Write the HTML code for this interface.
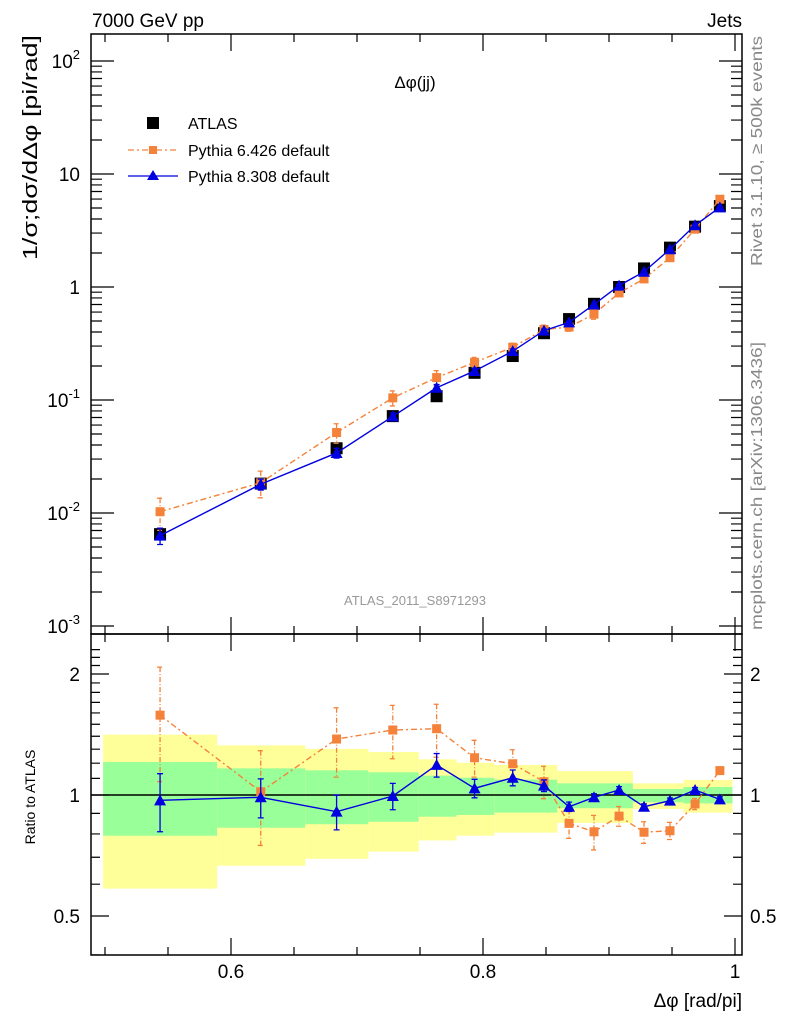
<!DOCTYPE html>
<html><head><meta charset="utf-8">
<style>
body{margin:0;background:#fff;}
svg{display:block;font-family:"Liberation Sans",sans-serif;}
</style></head>
<body>
<svg id="c" width="786" height="1024" viewBox="0 0 786 1024" xmlns="http://www.w3.org/2000/svg">
<g id="bands"></g>
<g id="grid"></g>
<g id="series"></g>
<text x="92" y="27" font-size="19">7000 GeV pp</text>
<text x="742" y="27" font-size="19" text-anchor="end">Jets</text>
<text x="415" y="88" font-size="17" text-anchor="middle">Δφ(jj)</text>
<text x="415" y="605" font-size="13" fill="#999" text-anchor="middle">ATLAS_2011_S8971293</text>
<text transform="translate(37,260) rotate(-90)" font-size="20" textLength="225" lengthAdjust="spacingAndGlyphs">1/σ;dσ/dΔφ [pi/rad]</text>
<text transform="translate(35,797) rotate(-90)" font-size="14" text-anchor="middle">Ratio to ATLAS</text>
<text x="742" y="1007" font-size="19" text-anchor="end">Δφ [rad/pi]</text>
<text transform="translate(762,266) rotate(-90)" font-size="16" fill="#888" textLength="230" lengthAdjust="spacingAndGlyphs">Rivet 3.1.10, ≥ 500k events</text>
<text transform="translate(762,630) rotate(-90)" font-size="16" fill="#888" textLength="288" lengthAdjust="spacingAndGlyphs">mcplots.cern.ch [arXiv:1306.3436]</text>
<g>
 <rect x="147" y="117" width="12" height="12" fill="#000"/>
 <text x="188" y="129" font-size="16">ATLAS</text>
 <line x1="128" y1="150" x2="178" y2="150" stroke="#f5823a" stroke-width="1.3" stroke-dasharray="6,3,2,3"/>
 <rect x="149" y="146" width="8" height="8" fill="#f5823a"/>
 <text x="188" y="156" font-size="16">Pythia 6.426 default</text>
 <line x1="128" y1="176" x2="178" y2="176" stroke="#0000e0" stroke-width="1.3"/>
 <polygon points="153,170 159,180 147,180" fill="#0000e0"/>
 <text x="188" y="182" font-size="16">Pythia 8.308 default</text>
</g>
</svg>
<script>
const xCenters=[0.5437,0.6236,0.6838,0.7284,0.7632,0.7933,0.8236,0.8484,0.8683,0.8881,0.908,0.9278,0.9484,0.9683,0.988];
const atlasVals=[0.0065,0.0182,0.0374,0.072,0.108,0.174,0.245,0.39,0.52,0.71,1.0,1.46,2.23,3.42,5.2];
const py8Ratio=[0.97,0.987,0.909,0.994,1.188,1.039,1.104,1.055,0.935,0.987,1.029,0.935,0.968,1.029,0.975];
const py8Err=[0.16,0.11,0.09,0.075,0.08,0.055,0.05,0.035,0.025,0.02,0.02,0.015,0.015,0.015,0.015];
const py6Ratio=[1.58,1.019,1.378,1.451,1.462,1.238,1.196,1.079,0.85,0.81,0.886,0.808,0.815,0.95,1.15];
const py6Err=[0.5,0.27,0.27,0.22,0.22,0.13,0.1,0.1,0.07,0.08,0.05,0.05,0.04,0.03,0.02];
const bandEdges=[0.4985,0.589,0.659,0.709,0.749,0.779,0.809,0.859,0.919,0.959,0.998];
const yellowHi=[1.413,1.329,1.302,1.279,1.227,1.203,1.188,1.147,1.069,1.09];
const yellowLo=[0.585,0.667,0.694,0.723,0.771,0.792,0.806,0.852,0.923,0.904];
const greenHi=[1.208,1.165,1.152,1.139,1.117,1.104,1.092,1.069,1.035,1.047];
const greenLo=[0.792,0.829,0.846,0.858,0.883,0.892,0.904,0.927,0.959,0.953];
const mainTicks=["10^-3","10^-2","10^-1","1","10","10^2"];
const ratioTicks=[0.5,1,2];
const xTicks=[0.6,0.8,1];

const NS="http://www.w3.org/2000/svg";
const L=91,R=742,T=34,MB=634,RB=955;
const X=v=>231+(v-0.6)*1260;
const Y=v=>287-Math.log10(v)*113;
const RY=v=>795-Math.log2(v)*121;
function mk(tag,parent,attrs){const e=document.createElementNS(NS,tag);for(const k in attrs)e.setAttribute(k,attrs[k]);parent.appendChild(e);return e;}
const gB=document.getElementById('bands'),gG=document.getElementById('grid'),gS=document.getElementById('series');

for(let i=0;i<yellowHi.length;i++){
 const x0=X(bandEdges[i]),x1=X(bandEdges[i+1]);
 let r=mk('rect',gB,{x:x0,y:RY(yellowHi[i]),width:x1-x0,height:RY(yellowLo[i])-RY(yellowHi[i]),fill:'#ffff99'});
 
 
 r=mk('rect',gB,{x:x0,y:RY(greenHi[i]),width:x1-x0,height:RY(greenLo[i])-RY(greenHi[i]),fill:'#99ff99'});
 
 
}
let f=mk('rect',gG,{x:L,y:T,width:R-L,height:MB-T,fill:'none',stroke:'#000','stroke-width':1.5});


f=mk('rect',gG,{x:L,y:MB,width:R-L,height:RB-MB,fill:'none',stroke:'#000','stroke-width':1.5});


let ln=mk('line',gG,{x1:L,x2:R,y1:RY(1),y2:RY(1),stroke:'#000','stroke-width':1.5});


for(let v=0.5;v<=1.0001;v+=0.05){
 const maj=Math.abs(v*5-Math.round(v*5))<1e-6;const len=maj?17:8;const x=X(v);
 for(const [y,d] of [[T,1],[MB,-1],[MB,1],[RB,-1]]) mk('path',gG,{d:`M${x},${y}v${d*len}`,stroke:'#000','stroke-width':1.2});
}
xTicks.forEach(v=>{const t=mk('text',gG,{x:X(v),y:978,'font-size':19,'text-anchor':'middle'});t.textContent=String(v);
 
 });
for(let e=-3;e<=2;e++){for(let m=1;m<=9;m++){const y=Y(m*Math.pow(10,e));if(y<T||y>MB)continue;const len=m==1?23:11;
 mk('path',gG,{d:`M${L},${y}h${len}M${R},${y}h${-len}`,stroke:'#000','stroke-width':1.2});}}
mainTicks.forEach((s,i)=>{const e=i-3;const y=Y(Math.pow(10,e))+7;
 const t=mk('text',gG,{x:80,y:y,'font-size':19,'text-anchor':'end'});
 
 
 if(s.includes('^')){const [b,p]=s.split('^');t.textContent=b;const ts=mk('tspan',t,{dy:-9,'font-size':13});ts.textContent=p;}else t.textContent=s;});
for(let v=0.4;v<=2.35;v+=0.1){const y=RY(v);if(y<MB||y>RB)continue;const maj=[0.5,1,2].some(m=>Math.abs(m-v)<1e-6);const len=maj?18:9;
 mk('path',gG,{d:`M${L},${y}h${len}M${R},${y}h${-len}`,stroke:'#000','stroke-width':1.2});}
ratioTicks.forEach(v=>{for(const [x,a] of [[80,'end'],[750,'start']]){const t=mk('text',gG,{x:x,y:RY(v)+7,'font-size':19,'text-anchor':a});t.textContent=String(v);
 
 }});

function series(vals,errs,color,dash,shape,name,yfun){
 const g=mk('g',gS,{});
 
 
 const pts=vals.map((v,i)=>[X(xCenters[i]),yfun(v)]);
 const pl=mk('polyline',g,{points:pts.map(p=>p.join(',')).join(' '),fill:'none',stroke:color,'stroke-width':1.4});
 if(dash)pl.setAttribute('stroke-dasharray',dash);
 vals.forEach((v,i)=>{const x=pts[i][0];
  if(errs){const y1=yfun(v*(1+errs[i])),y2=yfun(Math.max(v*(1-errs[i]),1e-9));
   const e=mk('path',g,{d:`M${x},${y1}V${y2}M${x-3},${y1}h6M${x-3},${y2}h6`,stroke:color,'stroke-width':1.3});if(dash)e.setAttribute('stroke-dasharray','5,2,1,2');}
  let m;
  if(shape=='sq')m=mk('rect',g,{x:x-4.5,y:pts[i][1]-4.5,width:9,height:9,fill:color});
  else if(shape=='big')m=mk('rect',g,{x:x-6,y:pts[i][1]-6,width:12,height:12,fill:color});
  else m=mk('polygon',g,{points:`${x},${pts[i][1]-6} ${x+6},${pts[i][1]+5} ${x-6},${pts[i][1]+5}`,fill:color});
  
  
 });
 if(shape=='big')pl.remove();
}
series(atlasVals,null,'#000',null,'big','atlas-data',Y);
series(atlasVals.map((a,i)=>a*py6Ratio[i]),py6Err.map((e,i)=>e/py6Ratio[i]),'#f5823a','6,3,2,3','sq','pythia6-main',Y);
series(atlasVals.map((a,i)=>a*py8Ratio[i]),py8Err.map((e,i)=>e/py8Ratio[i]),'#0000e0',null,'tri','pythia8-main',Y);
series(py6Ratio,py6Err.map((e,i)=>e/py6Ratio[i]),'#f5823a','6,3,2,3','sq','pythia6-ratio',RY);
series(py8Ratio,py8Err.map((e,i)=>e/py8Ratio[i]),'#0000e0',null,'tri','pythia8-ratio',RY);
</script>
</body></html>
